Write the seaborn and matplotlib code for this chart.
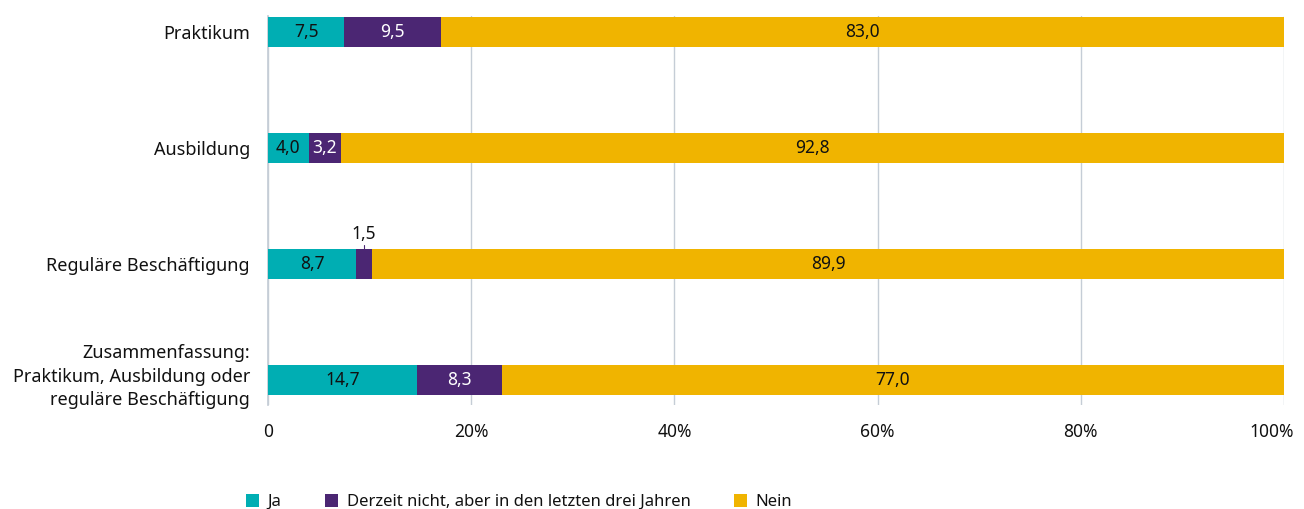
import numpy as np
import pandas as pd
import matplotlib.pyplot as plt
import seaborn as sns
from matplotlib.patches import Patch
from matplotlib.transforms import ScaledTranslation

categories = [
    "Praktikum",
    "Ausbildung",
    "Reguläre Beschäftigung",
    "Zusammenfassung:\nPraktikum, Ausbildung oder\nreguläre Beschäftigung",
]
ja = [7.5, 4.0, 8.7, 14.7]
derzeit_nicht = [9.5, 3.2, 1.5, 8.3]
nein = [83.0, 92.8, 89.9, 77.0]
series_names = ["Ja", "Derzeit nicht, aber in den letzten drei Jahren", "Nein"]
tick_labels = ["0", "20%", "40%", "60%", "80%", "100%"]

colors = ["#00AEB3", "#4B2673", "#F0B400"]
text_colors = ["#111111", "white", "#111111"]

df = pd.DataFrame({"cat": categories, "ja": ja, "derzeit": derzeit_nicht, "nein": nein})
df["c1"] = df["ja"]
df["c2"] = df["ja"] + df["derzeit"]
df["c3"] = df["c2"] + df["nein"]

sns.set_theme(style="white")
plt.rcParams["font.family"] = ["Noto Sans", "DejaVu Sans"]

fig = plt.figure(figsize=(13.04, 5.09), dpi=100)
ax = fig.add_axes([268 / 1304, 1 - 405 / 509, (1284 - 268) / 1304, (405 - 16) / 509])

# stacked bars drawn as overlapping cumulative totals
for col, color in zip(["c3", "c2", "c1"], colors[::-1]):
    sns.barplot(data=df, x=col, y="cat", orient="h", color=color, width=0.26,
                saturation=1, linewidth=0, edgecolor="none", ax=ax, zorder=3)

ax.set_xlim(0, 100)
ax.set_ylim(3.216, -0.138)
ax.set_xticks([0, 20, 40, 60, 80, 100])
ax.set_xticklabels(tick_labels, fontsize=12.5, color="#111111")
ax.set_xlabel("")
ax.set_ylabel("")
ax.tick_params(axis="y", labelsize=13, length=0, pad=13, labelcolor="#111111")
ax.tick_params(axis="x", length=0, pad=13)
for lbl in ax.get_yticklabels():
    lbl.set_horizontalalignment("right")
    lbl.set_multialignment("right")
    lbl.set_linespacing(1.4)

# nudge multi-line label up a bit, and keep "100%" inside the figure
last_y = ax.get_yticklabels()[-1]
last_y.set_transform(last_y.get_transform() + ScaledTranslation(0, 8 / 100, fig.dpi_scale_trans))
last_x = ax.get_xticklabels()[-1]
last_x.set_transform(last_x.get_transform() + ScaledTranslation(-12 / 100, 0, fig.dpi_scale_trans))

ax.grid(axis="x", color="#C5CDD6", linewidth=1, zorder=0)
ax.grid(axis="y", visible=False)
for s in ["top", "right", "bottom"]:
    ax.spines[s].set_visible(False)
ax.spines["left"].set_color("#C5CDD6")
ax.spines["left"].set_zorder(1)

# segment labels
fmt = lambda v: f"{v:.1f}".replace(".", ",")
for i in range(len(categories)):
    starts = [0, df["c1"][i], df["c2"][i]]
    vals = [df["ja"][i], df["derzeit"][i], df["nein"][i]]
    for s, v, tc in zip(starts, vals, text_colors):
        if v < 2:
            x = s + v / 2
            ax.plot([x, x], [i - 0.13, i - 0.165], color="#4B2673", lw=0.8, zorder=4)
            ax.text(x, i - 0.18, fmt(v), ha="center", va="bottom", fontsize=12.5,
                    color="#111111", zorder=4)
        else:
            ax.text(s + v / 2, i, fmt(v), ha="center", va="center", fontsize=12.5,
                    color=tc, zorder=4)

handles = [Patch(facecolor=c, edgecolor="none") for c in colors]
fig.legend(handles, series_names, loc="center left", bbox_to_anchor=(231 / 1304, 1 - 502 / 509),
           ncol=3, frameon=False, fontsize=12, handlelength=0.8, handleheight=0.8,
           handletextpad=0.5, columnspacing=2.6, labelcolor="#111111")

fig.savefig("out.png", dpi=100)
